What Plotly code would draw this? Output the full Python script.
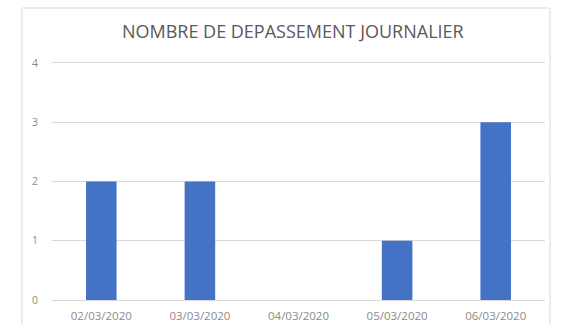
import plotly.graph_objects as go

categories = ["02/03/2020", "03/03/2020", "04/03/2020", "05/03/2020", "06/03/2020"]
values = [2, 2, 0, 1, 3]
y_ticks = [0, 1, 2, 3, 4]
title_text = "NOMBRE DE DEPASSEMENT JOURNALIER"

fig = go.Figure()
fig.add_trace(go.Bar(x=categories, y=values, marker=dict(color="#4472C4", line=dict(width=0)),
                     width=0.31))

fig.update_layout(
    width=562, height=325,
    margin=dict(l=52, r=17, t=57, b=25, autoexpand=False),
    paper_bgcolor="white", plot_bgcolor="white",
    showlegend=False,
    font=dict(family="Open Sans, Liberation Sans, sans-serif", color="#7f7f7f"),
    title=dict(text=title_text, x=0.521, xanchor="center", y=1 - 31.5/325, yanchor="middle",
               font=dict(size=18, color="#595959", family="Open Sans, sans-serif")),
    xaxis=dict(type="category", showgrid=False, showline=False, zeroline=False, ticks="",
               automargin=False,
               tickfont=dict(size=11.5, color="#8a8a8a"), ticklabelstandoff=7),
    yaxis=dict(range=[0, 4.1], tickvals=y_ticks, showgrid=True, gridcolor="#d9d9d9", gridwidth=1,
               zeroline=True, zerolinecolor="#d9d9d9", zerolinewidth=1, showline=False, ticks="",
               automargin=False,
               tickfont=dict(size=10.5, color="#8a8a8a"), ticklabelstandoff=13),
    shapes=[dict(type="rect", xref="paper", yref="paper",
                 x0=(22-52)/493, x1=(550-52)/493, y0=-0.14, y1=(300-8)/243,
                 line=dict(color="#d9d9d9", width=1), fillcolor="rgba(0,0,0,0)", layer="below")],
)

fig.write_html("out.html", config={"displayModeBar": False},
               post_script="document.body.style.margin='0';document.body.style.overflow='hidden';")
